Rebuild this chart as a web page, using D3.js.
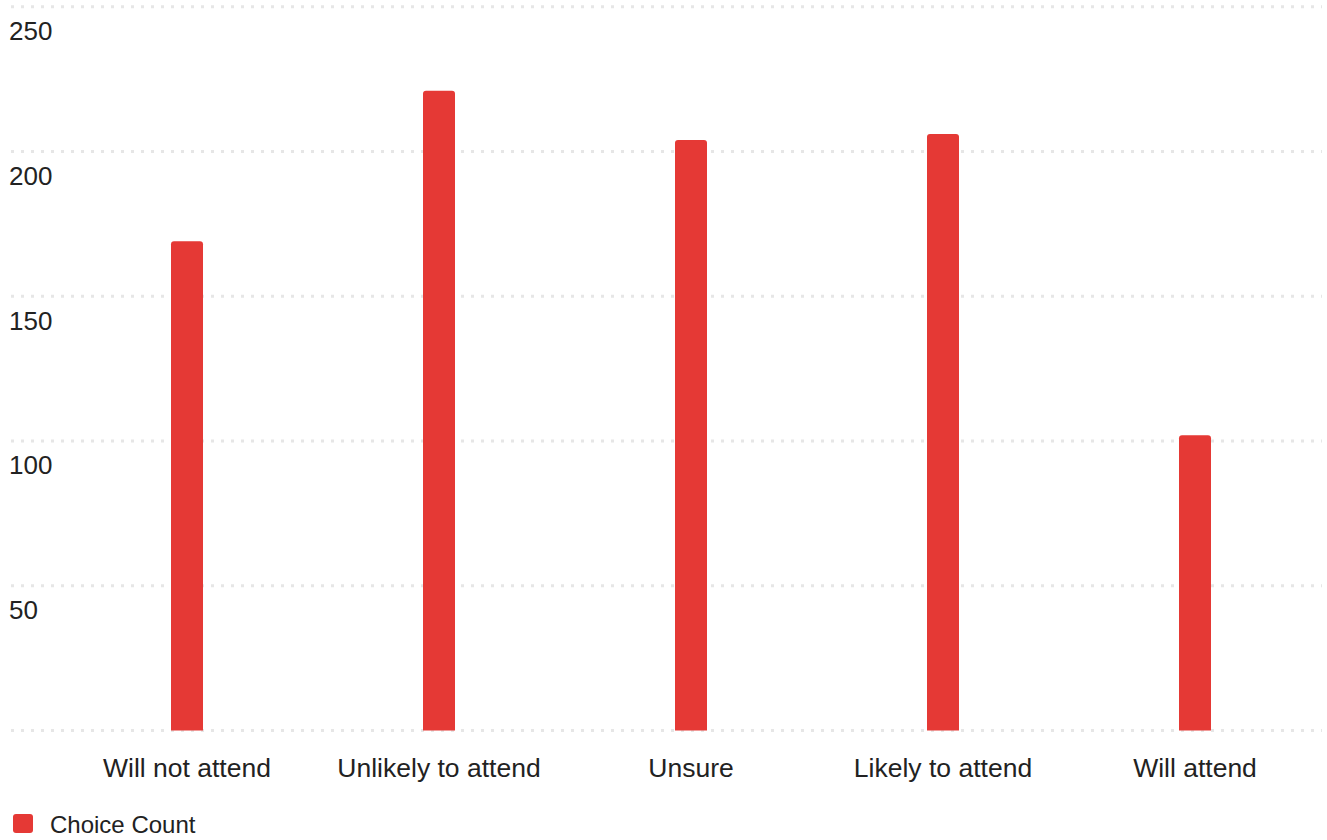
<!DOCTYPE html>
<html>
<head>
<meta charset="utf-8">
<script src="https://cdn.jsdelivr.net/npm/d3@7"></script>
<style>
html,body{margin:0;padding:0;background:#fff;}
svg{display:block;font-family:"Liberation Sans",Arial,Helvetica,sans-serif;}
</style>
</head>
<body>
<svg id="chart" width="1327" height="840"></svg>
<script>
const categories = ["Will not attend","Unlikely to attend","Unsure","Likely to attend","Will attend"];
const choiceCount = [169, 221, 204, 206, 102];
const yTicks = [0, 50, 100, 150, 200, 250];
const seriesName = "Choice Count";

const W = 1327, H = 840;
const svg = d3.select("#chart");
const x = d3.scaleBand().domain(categories).range([61, 1321]);
const y = d3.scaleLinear().domain([0, 250]).range([730.5, 6.7]);
const barW = 32, r = 3;
const red = "#e53935", txt = "#222";

// gridlines
svg.append("g").selectAll("line").data(yTicks).join("line")
  .attr("x1", 11).attr("x2", 1322)
  .attr("y1", d => y(d)).attr("y2", d => y(d))
  .attr("stroke", "#e6e6e6").attr("stroke-width", 3)
  .attr("stroke-dasharray", "3,7");

// y tick labels (below the gridline)
svg.append("g").selectAll("text").data(yTicks.filter(d => d > 0)).join("text")
  .attr("x", 9).attr("y", d => y(d) + 33.5)
  .attr("font-size", 26).attr("fill", txt)
  .text(d => d);

// bars with rounded top corners
svg.append("g").selectAll("path").data(categories).join("path")
  .attr("fill", red)
  .attr("d", (c, i) => {
    const cx = x(c) + x.bandwidth() / 2;
    const x0 = cx - barW / 2, x1 = cx + barW / 2;
    const yt = y(choiceCount[i]), yb = y(0);
    return `M${x0},${yb}V${yt + r}Q${x0},${yt} ${x0 + r},${yt}H${x1 - r}Q${x1},${yt} ${x1},${yt + r}V${yb}Z`;
  });

// x labels
svg.append("g").selectAll("text").data(categories).join("text")
  .attr("x", c => x(c) + x.bandwidth() / 2).attr("y", 777)
  .attr("text-anchor", "middle").attr("font-size", 26.5).attr("fill", txt)
  .text(c => c);

// legend
const lg = svg.append("g");
lg.append("rect").attr("x", 13).attr("y", 814).attr("width", 20).attr("height", 19)
  .attr("rx", 3).attr("fill", red);
lg.append("text").attr("x", 50).attr("y", 833).attr("font-size", 24).attr("fill", txt)
  .text(seriesName);
</script>
</body>
</html>
